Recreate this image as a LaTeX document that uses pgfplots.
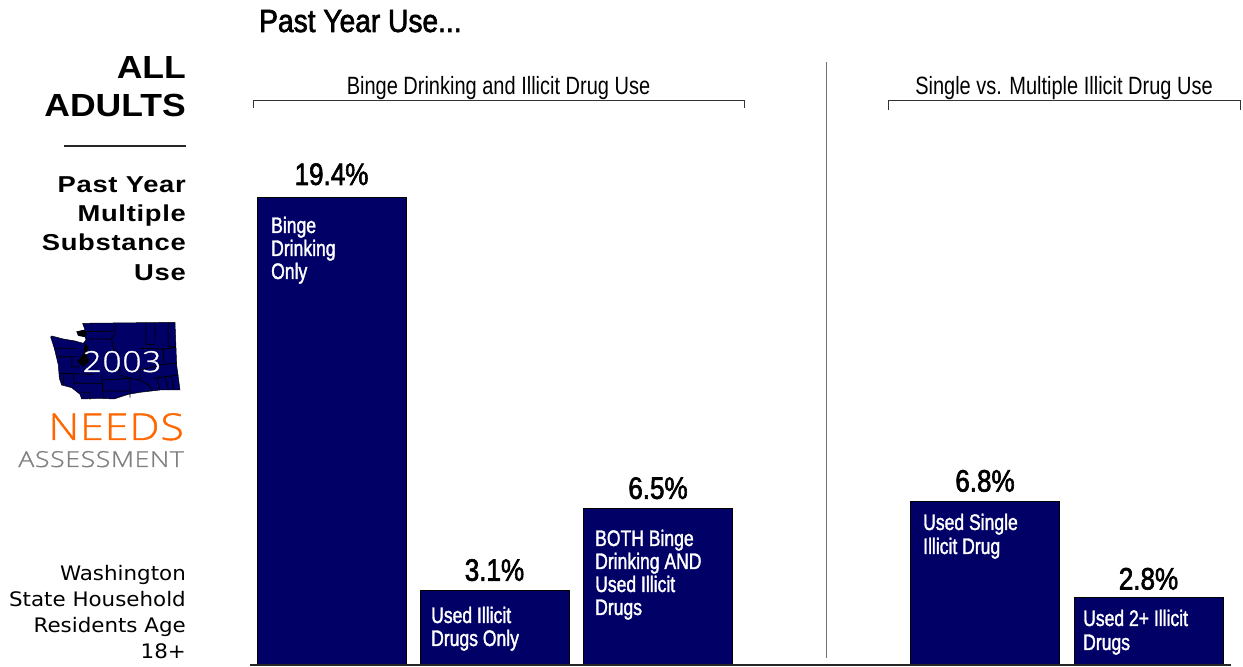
\documentclass[border=0pt]{standalone}
\usepackage{pgfplots}
\pgfplotsset{compat=1.18}
\usepackage{fontspec}
\setmainfont{Liberation Sans}
\newfontfamily\narrow[FakeStretch=0.8]{Liberation Sans}
\newfontfamily\valuefont[FakeStretch=0.84,FakeBold=2]{Liberation Sans}
\newfontfamily\titlefont[FakeStretch=0.88,FakeBold=2]{Liberation Sans}
\newfontfamily\capfont[FakeStretch=0.78,FakeBold=1.5]{Liberation Sans}
\newfontfamily\headfont[FakeStretch=1.11]{Liberation Sans}
\newfontfamily\subhead[FakeStretch=1.19,LetterSpace=3]{Liberation Sans}
\newfontfamily\wide[FakeStretch=1.07]{DejaVu Sans}
\newfontfamily\thinA[FakeStretch=1.15,LetterSpace=3,FakeBold=1]{Open Sans Light}
\newfontfamily\thinB[FakeStretch=1.21,LetterSpace=3,FakeBold=1]{Open Sans Light}
\definecolor{barnavy}{RGB}{0,0,102}
\definecolor{needs}{RGB}{255,102,0}
\newcommand{\fs}[1]{\fontsize{#1}{#1}\selectfont}
\begin{document}
\begin{tikzpicture}[x=1pt,y=1pt]
\useasboundingbox (0,0) rectangle (1243,667);
\begin{axis}[
  at={(0,0)},anchor=south west,
  scale only axis,width=1243pt,height=667pt,
  xmin=0,xmax=1243,ymin=-0.083,ymax=27.593,
  axis lines=none,clip=false,
  ybar,bar width=149,
  /pgf/number format/assume math mode=true,
  valuelabel/.style={ybar,bar shift=0pt,draw=none,fill=none,forget plot,
    nodes near coords={\pgfmathprintnumber[fixed,fixed zerofill,precision=1,assume math mode=true]{\pgfplotspointmeta}\%},
    nodes near coords align={above},
    every node near coord/.append style={font=\valuefont\fs{31},text=black,inner sep=0pt,yshift=#1}}
]
% Binge drinking and illicit drug use
\addplot[bar shift=0pt,fill=barnavy,draw=black,line width=1pt] coordinates {(331.5,19.4)(494.5,3.1)(658,6.5)};
% Single vs. multiple illicit drug use
\addplot[bar shift=0pt,fill=barnavy,draw=black,line width=1pt] coordinates {(985,6.8)(1148.5,2.8)};
% Value labels
\addplot[valuelabel=12pt] coordinates {(331.5,19.4)};
\addplot[valuelabel=9pt] coordinates {(494.5,3.1)(658,6.5)(985,6.8)};
\addplot[valuelabel=7.5pt] coordinates {(1148.5,2.8)};
\end{axis}
\begin{scope}[shift={(0,667)},y=-1pt]
  % baseline, divider and brackets
  \draw[line width=2pt,black!85] (250,665.5)--(1231,665.5);
  \draw[line width=1pt,black!55] (826,62)--(826,658);
  \draw[line width=0.9pt,black!80] (253,108)--(253,100.5)--(744.5,100.5)--(744.5,108);
  \draw[line width=0.9pt,black!80] (888.5,110)--(888.5,100.5)--(1240.5,100.5)--(1240.5,110);
  \node[anchor=base west,inner sep=0,font=\titlefont\fs{32}] at (259,32) {Past Year Use...};
  \node[anchor=base,inner sep=0,font=\narrow\fs{25}] at (498.5,95) {Binge Drinking and Illicit Drug Use};
  \node[anchor=base,inner sep=0,font=\narrow\fs{25}] at (1064,95) {Single vs. Multiple Illicit Drug Use};
  % bar captions
  \begin{scope}[every node/.style={anchor=base west,inner sep=0,text=white,font=\capfont\fs{22.5}}]
    \node at (271,233) {Binge};
    \node at (271,256) {Drinking};
    \node at (271,279) {Only};
    \node at (431,623) {Used Illicit};
    \node at (431,646) {Drugs Only};
    \node at (595,546) {BOTH Binge};
    \node at (595,569) {Drinking AND};
    \node at (595,592) {Used Illicit};
    \node at (595,615) {Drugs};
    \node at (923,530) {Used Single};
    \node at (923,554) {Illicit Drug};
    \node at (1083,626) {Used 2+ Illicit};
    \node at (1083,650) {Drugs};
  \end{scope}
  % left panel
  \begin{scope}[every node/.style={anchor=base east,inner sep=0}]
    \node[font=\headfont\fs{32}\bfseries] at (186,79) {ALL};
    \node[font=\headfont\fs{32}\bfseries] at (186,117) {ADULTS};
    \node[font=\subhead\fs{23}\bfseries] at (186,193) {Past Year};
    \node[font=\subhead\fs{23}\bfseries] at (186,222) {Multiple};
    \node[font=\subhead\fs{23}\bfseries] at (186,251) {Substance};
    \node[font=\subhead\fs{23}\bfseries] at (186,281) {Use};
    \node[font=\wide\fs{20}] at (186,581) {Washington};
    \node[font=\wide\fs{20}] at (186,607) {State Household};
    \node[font=\wide\fs{20}] at (186,633) {Residents Age};
    \node[font=\wide\fs{20}] at (186,659) {18+};
    \node[text=needs,font=\thinA\fs{37}] at (184,440) {NEEDS};
    \node[text=black!50,font=\thinB\fs{22}] at (184,467) {ASSESSMENT};
  \end{scope}
  \draw[line width=2.4pt,black!85] (64,146)--(186,146);
  % state map, drawn at three times size about its corner
  \begin{scope}[shift={(40,315)},x=0.3333pt,y=-0.3333pt]
    \fill[barnavy,draw=black,line width=0.5pt] (128,25)--(405,22)--(410,150)--(420,225)--(360,225)--(300,232)--(265,238)--(222,252)--(180,250)--(125,252)--(120,238)--(95,218)--(65,210)--(58,190)--(55,150)--(43,100)--(32,66)--(35,63)--(70,72)--(105,78)--(130,85)--(138,75)--(135,65)--(115,62)--(110,50)--(135,45)--cycle;
    % island and sound shorelines
    \fill[black] (112,50)--(130,45)--(140,55)--(135,66)--(118,62)--cycle;
    \fill[black] (135,85)--(145,95)--(140,120)--(148,140)--(130,155)--(112,140)--(130,115)--cycle;
    % county lines
    \draw[black,line width=0.8pt]
      (135,50)--(222,48)
      (140,72)--(215,72)
      (225,25)--(225,58)--(215,70)--(218,95)--(235,125)--(240,180)--(270,190)--(270,248)
      (318,24)--(318,88)--(345,90)
      (345,24)--(345,80)
      (385,23)--(385,95)--(408,95)
      (300,100)--(370,102)--(408,98)
      (370,102)--(372,148)--(300,165)--(300,195)--(270,190)
      (372,148)--(410,145)
      (190,195)--(270,190)
      (185,228)--(270,228)
      (185,178)--(190,250)
      (125,232)--(150,232)--(150,254)
      (60,175)--(160,178)
      (45,100)--(110,100)
      (50,125)--(110,125)
      (95,125)--(95,155)--(120,155)
      (70,205)--(72,178)
      (100,178)--(102,205)--(185,205)
      (300,195)--(330,212)--(335,228)
      (340,190)--(415,180)
      (350,190)--(360,225)
      (375,188)--(385,222)
      (395,185)--(402,222);
  \end{scope}
  \node[anchor=base,inner sep=0,text=white,font=\thinA\fs{29}] at (122,372) {2003};
\end{scope}
\end{tikzpicture}
\end{document}
